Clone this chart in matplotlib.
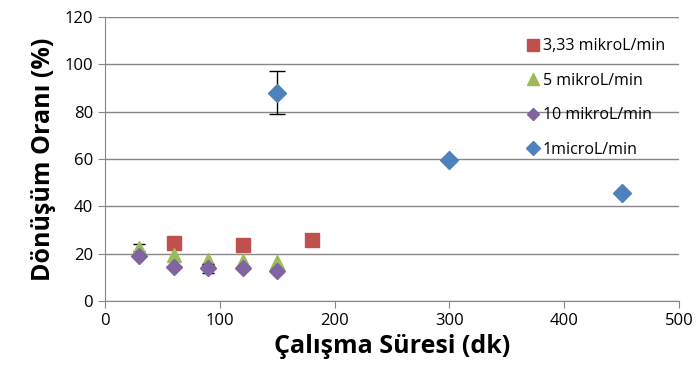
import matplotlib
matplotlib.use("Agg")
import matplotlib.pyplot as plt

x_red = [60, 120, 180]
y_red = [24.5, 23.8, 25.7]
x_green = [30, 60, 90, 120, 150]
y_green = [22.5, 19.5, 17.5, 17.0, 16.5]
err_green = [1.5, 0, 0, 0, 0]
x_purple = [30, 60, 90, 120, 150]
y_purple = [19.2, 14.5, 13.8, 14.0, 12.5]
err_purple = [0, 0, 1.8, 0, 0]
x_blue = [150, 300, 450]
y_blue = [88, 59.5, 45.5]
err_blue = [9, 0, 0]

labels = ["3,33 mikroL/min", "5 mikroL/min", "10 mikroL/min", "1microL/min"]
xticks = [0, 100, 200, 300, 400, 500]
yticks = [0, 20, 40, 60, 80, 100, 120]

plt.rcParams['font.family'] = ['Open Sans', 'DejaVu Sans']
fig = plt.figure(figsize=(6.98, 3.83), dpi=100)
ax = fig.add_axes([105/698, 1-301/383, (679-105)/698, (301-17)/383])


def errs(xs, ys, es, cap, z):
    pts = [(x, y, e) for x, y, e in zip(xs, ys, es) if e > 0]
    if pts:
        ax.errorbar([p[0] for p in pts], [p[1] for p in pts], yerr=[p[2] for p in pts],
                    fmt='none', ecolor='black', elinewidth=1, capsize=cap, zorder=z)


ax.plot(x_red, y_red, 's', color='#C0504D', ms=10, label=labels[0], zorder=3, ls='none')
errs(x_green, y_green, err_green, 4, 3)
ax.plot(x_green, y_green, '^', color='#9BBB59', ms=10, label=labels[1], zorder=3, ls='none')
errs(x_purple, y_purple, err_purple, 4, 4)
ax.plot(x_purple, y_purple, 'D', color='#8064A2', ms=8, label=labels[2], zorder=4, ls='none')
errs(x_blue, y_blue, err_blue, 6, 4)
ax.plot(x_blue, y_blue, 'D', color='#4F81BD', ms=9, label=labels[3], zorder=5, ls='none')

ax.set_xlim(0, 500)
ax.set_ylim(0, 120)
ax.set_xticks(xticks)
ax.set_yticks(yticks)
ax.tick_params(labelsize=12, length=5, color='#868686', labelcolor='black')
ax.grid(axis='y', color='#868686', linewidth=1)
ax.set_axisbelow(True)
for s in ['top', 'right']:
    ax.spines[s].set_visible(False)
for s in ['left', 'bottom']:
    ax.spines[s].set_color('#868686')
ax.set_xlabel('Çalışma Süresi (dk)', fontsize=18, fontweight='bold', labelpad=4)
ax.set_ylabel('Dönüşüm Oranı (%)', fontsize=18, fontweight='bold', labelpad=6)

ax.legend(loc='upper right', bbox_to_anchor=(1.0, 0.975), frameon=False, fontsize=11.5,
          handletextpad=0.1, labelspacing=1.15, handlelength=1.0, markerscale=0.8)

fig.savefig('out.png', dpi=100)
